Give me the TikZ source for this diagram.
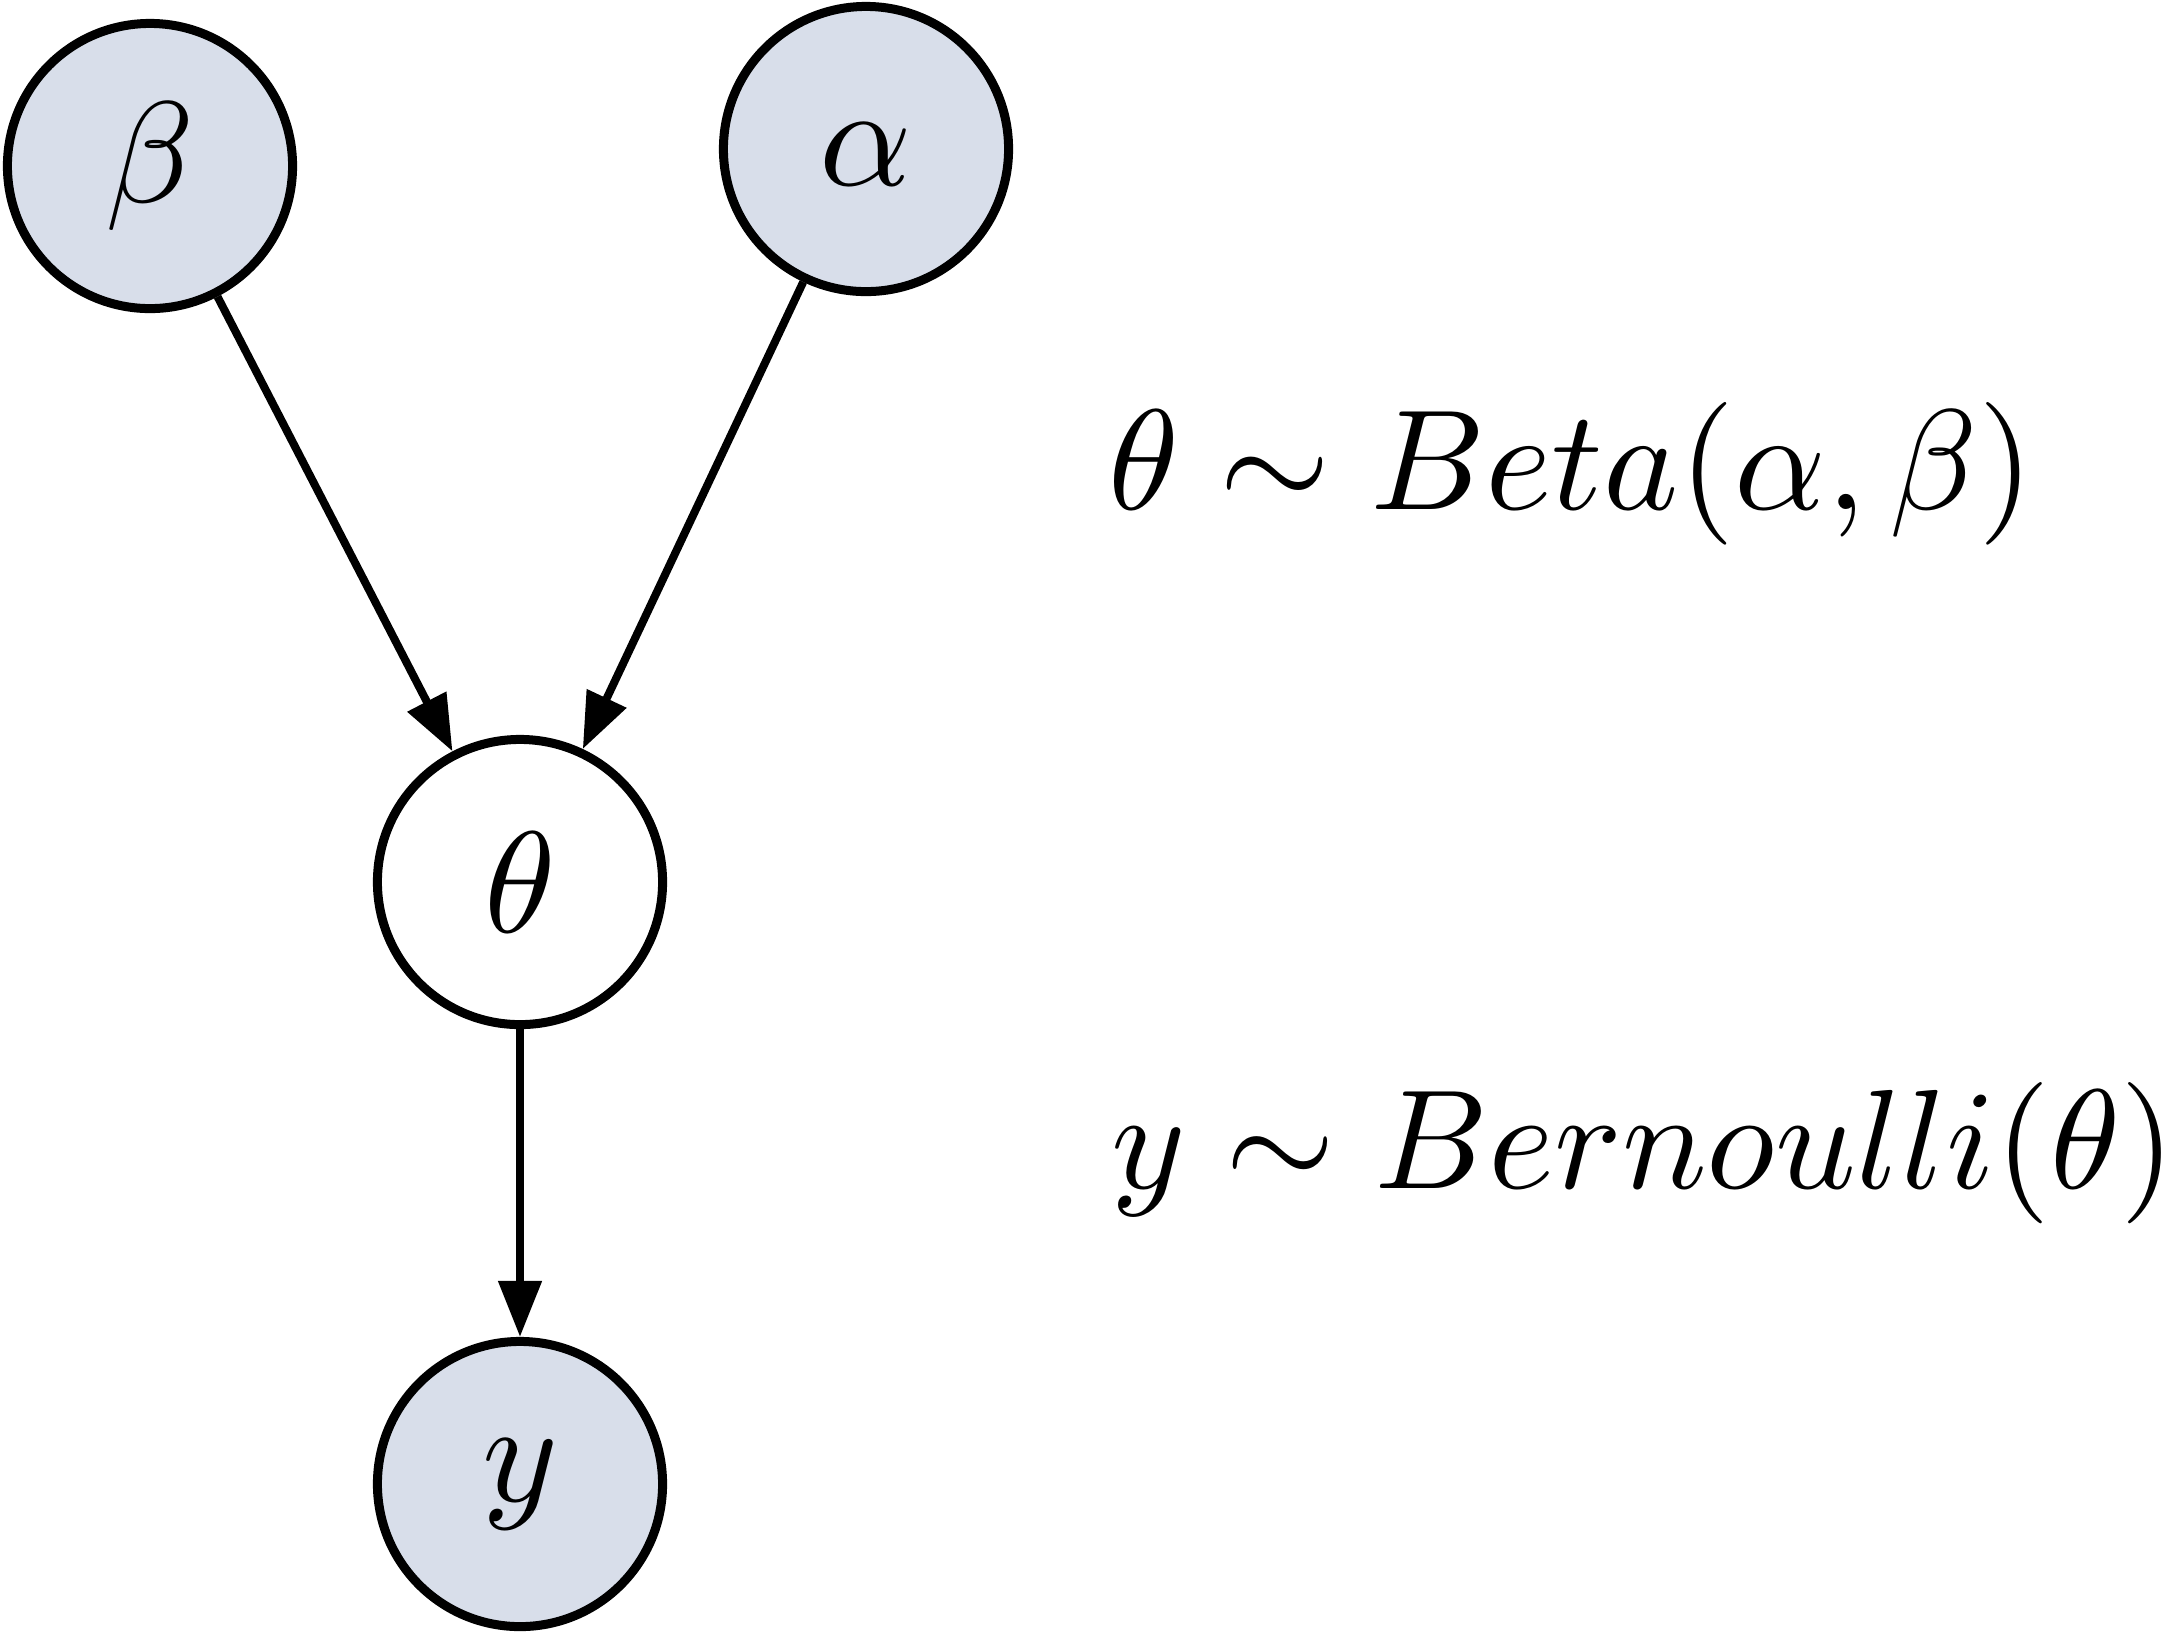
\documentclass[tikz,border=0pt]{standalone}
\usepackage{graphicx}
\usetikzlibrary{arrows.meta}
\definecolor{obsfill}{RGB}{216,222,234}
\newcommand{\sztxt}[1]{\scalebox{4.1}{#1}}
\newcommand{\eqtxt}[1]{\scalebox{4.06}{#1}}
\newcommand{\eqtxtb}[1]{\scalebox{4.02}{#1}}
\begin{document}
\begin{tikzpicture}[x=0.01cm,y=-0.01cm,
  rv/.style={circle,draw,line width=0.09cm,minimum size=2.85cm,inner sep=0pt},
  obs/.style={rv,fill=obsfill},
  edge/.style={line width=0.08cm,-{Triangle[length=0.56cm,width=0.42cm]}}]
\useasboundingbox (0,0) rectangle (2176,1632);
\node[obs] (beta) at (150,166) {\sztxt{$\beta$}};
\node[obs,text height=21pt,text depth=0pt] (alpha) at (866,149) {\sztxt{$\alpha$}};
\node[rv] (theta) at (520,882) {\sztxt{$\theta$}};
\node[obs] (y) at (520,1484) {\sztxt{$y$}};
\draw[edge] (beta) -- (theta);
\draw[edge] (alpha) -- (theta);
\draw[edge] (theta) -- (y);
\node[anchor=base west, inner sep=0pt] (eq1) at (1108,509) {\eqtxt{$\theta\sim Beta(\alpha,\beta)$}};
\node[anchor=base west, inner sep=0pt] (eq2) at (1111,1188) {\eqtxtb{$y\sim Bernoulli(\theta)$}};
\end{tikzpicture}
\end{document}
